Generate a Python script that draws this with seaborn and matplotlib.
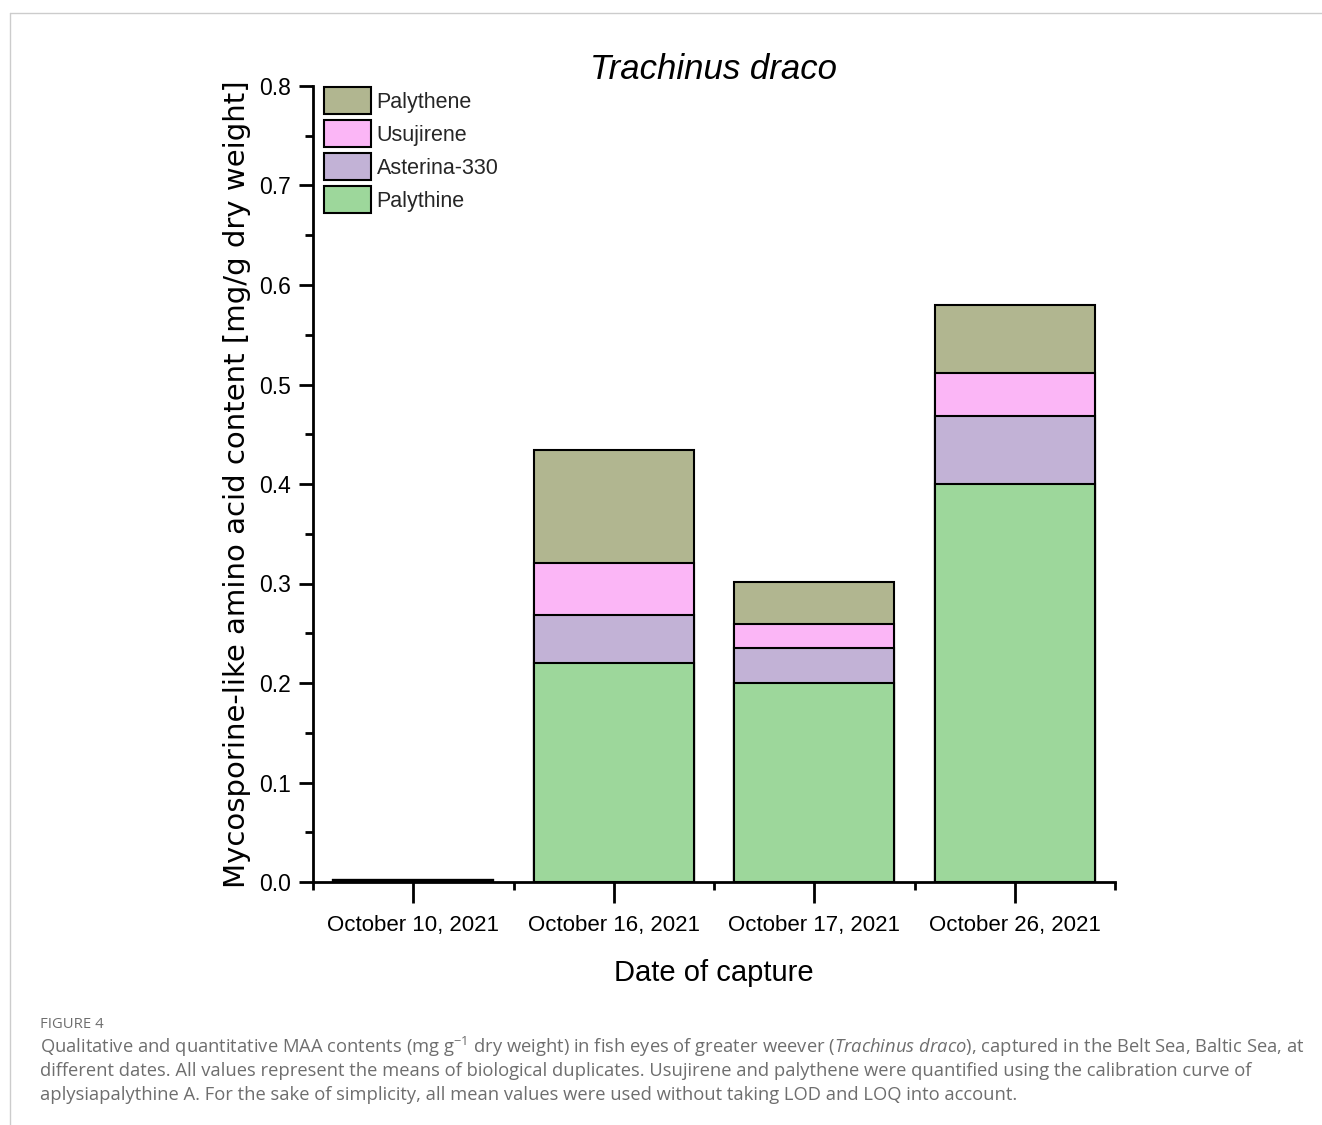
import matplotlib
matplotlib.use("Agg")
import matplotlib.pyplot as plt
import seaborn as sns
import pandas as pd
import numpy as np
from matplotlib.lines import Line2D
from matplotlib.patches import Patch

dates = ["October 10, 2021", "October 16, 2021", "October 17, 2021", "October 26, 2021"]
palythine = [0.002, 0.220, 0.200, 0.400]
asterina = [0.0, 0.048, 0.035, 0.068]
usujirene = [0.0, 0.053, 0.024, 0.044]
palythene = [0.0, 0.113, 0.043, 0.068]

series_names = ["Palythine", "Asterina-330", "Usujirene", "Palythene"]
series_vals = [palythine, asterina, usujirene, palythene]
colors = ["#9dd79b", "#c2b2d6", "#fbb6f6", "#b1b690"]

sns.set_theme(style="ticks")
plt.rcParams["font.family"] = ["Liberation Sans", "DejaVu Sans"]
plt.rcParams["mathtext.fontset"] = "custom"
plt.rcParams["mathtext.rm"] = "Open Sans"
plt.rcParams["mathtext.it"] = "Open Sans:italic"

fig = plt.figure(figsize=(13.22, 11.25), dpi=100)
ax = fig.add_axes([313/1322, 1-882/1125, (1115-313)/1322, (882-86)/1125])

cum = np.cumsum(np.array(series_vals), axis=0)
df = pd.DataFrame({"date": dates})
# draw from the top cumulative down so lower segments overlay
for i in range(len(series_names)-1, -1, -1):
    df["v"] = cum[i]
    sns.barplot(data=df, x="date", y="v", color=colors[i], saturation=1,
                edgecolor="black", linewidth=1.5, width=0.8, ax=ax)

ax.set_xlim(-0.5, 3.5)
ax.set_ylim(0, 0.8)
ax.set_yticks(np.arange(0, 0.81, 0.1))
ax.set_yticklabels([f"{v:.1f}" for v in np.arange(0, 0.81, 0.1)])
ax.set_yticks(np.arange(0.05, 0.8, 0.1), minor=True)
ax.set_xticks(np.arange(-0.5, 3.6, 1.0), minor=True)
ax.tick_params(axis="both", which="major", direction="out", width=2, length=10,
               labelsize=16.5, color="black", labelcolor="black")
ax.tick_params(axis="x", which="major", length=15, labelsize=16, pad=9)
ax.tick_params(axis="y", which="major", pad=6)
ax.tick_params(axis="both", which="minor", direction="out", width=2, length=6, color="black")
for s in ["top", "right"]:
    ax.spines[s].set_visible(False)
for s in ["left", "bottom"]:
    ax.spines[s].set_linewidth(2)
    ax.spines[s].set_color("black")

ax.set_xlabel("Date of capture", fontsize=21, labelpad=16, color="black")
ax.set_ylabel("Mycosporine-like amino acid content [mg/g dry weight]",
              fontsize=21, family="DejaVu Sans", labelpad=6, color="black")
ax.set_title("Trachinus draco", fontsize=25, style="italic", pad=2, color="black")

handles = [Patch(facecolor=colors[i], edgecolor="black", linewidth=1.5, label=series_names[i])
           for i in range(3, -1, -1)]
leg = ax.legend(handles=handles, loc="upper left", bbox_to_anchor=(0.0, 1.012),
                frameon=False, fontsize=15.5, handlelength=2.2, handleheight=1.55,
                handletextpad=0.25, labelspacing=0.28, borderaxespad=0.3,
                borderpad=0.2)

# figure border (top and left)
fig.add_artist(Line2D([10/1322, 1.0], [1-13/1125, 1-13/1125], color="#cccccc", linewidth=1,
                      transform=fig.transFigure))
fig.add_artist(Line2D([10/1322, 10/1322], [0, 1-13/1125], color="#cccccc", linewidth=1,
                      transform=fig.transFigure))

cap_color = "#6e6e6e"
fig.text(40/1322, 1-1024/1125, "FIGURE 4", fontsize=10.7, color=cap_color,
         family="Open Sans", va="center")
cap_lines = [
    r"Qualitative and quantitative MAA contents (mg g$^{-1}$ dry weight) in fish eyes of greater weever ($\mathit{Trachinus\ draco}$), captured in the Belt Sea, Baltic Sea, at",
    "different dates. All values represent the means of biological duplicates. Usujirene and palythene were quantified using the calibration curve of",
    "aplysiapalythine A. For the sake of simplicity, all mean values were used without taking LOD and LOQ into account.",
]
for k, line in enumerate(cap_lines):
    fig.text(40/1322, 1-(1047+24*k)/1125, line, fontsize=13.2, color=cap_color,
             family="Open Sans", va="center")

fig.savefig("out.png", dpi=100, facecolor="white")
